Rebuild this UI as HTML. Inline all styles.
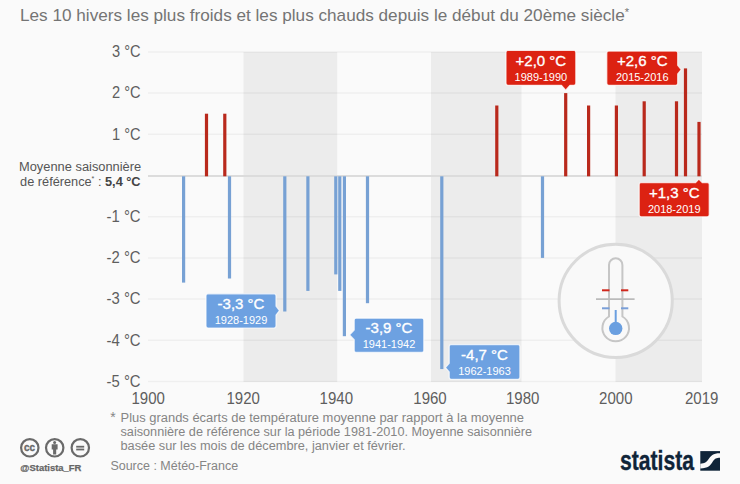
<!DOCTYPE html>
<html><head><meta charset="utf-8"><style>
html,body{margin:0;padding:0;width:740px;height:484px;overflow:hidden;background:#fafafa;}
svg{display:block;font-family:"Liberation Sans",sans-serif;}
</style></head><body>
<svg width="740" height="484" viewBox="0 0 740 484">
<rect x="0" y="0" width="740" height="484" fill="#fafafa"/>
<rect x="243.5" y="52" width="93.7" height="330" fill="#ececec"/>
<rect x="431" y="52" width="90.5" height="330" fill="#ececec"/>
<rect x="615.5" y="52" width="86.5" height="330" fill="#ececec"/>
<line x1="148" x2="702" y1="51.9" y2="51.9" stroke="#000" stroke-opacity="0.045" stroke-width="1.5"/>
<line x1="148" x2="702" y1="93.1" y2="93.1" stroke="#000" stroke-opacity="0.045" stroke-width="1.5"/>
<line x1="148" x2="702" y1="134.3" y2="134.3" stroke="#000" stroke-opacity="0.045" stroke-width="1.5"/>
<line x1="148" x2="702" y1="216.7" y2="216.7" stroke="#000" stroke-opacity="0.045" stroke-width="1.5"/>
<line x1="148" x2="702" y1="257.9" y2="257.9" stroke="#000" stroke-opacity="0.045" stroke-width="1.5"/>
<line x1="148" x2="702" y1="299.1" y2="299.1" stroke="#000" stroke-opacity="0.045" stroke-width="1.5"/>
<line x1="148" x2="702" y1="340.3" y2="340.3" stroke="#000" stroke-opacity="0.045" stroke-width="1.5"/>
<line x1="148" x2="702" y1="381.5" y2="381.5" stroke="#000" stroke-opacity="0.045" stroke-width="1.5"/>
<line x1="148" x2="702" y1="176" y2="176" stroke="#dcdcdc" stroke-width="1.8"/>
<rect x="204.9" y="113.7" width="3.2" height="62.6" fill="#b9291c"/>
<rect x="223.2" y="113.7" width="3.2" height="62.6" fill="#b9291c"/>
<rect x="495.2" y="105.5" width="3.2" height="70.8" fill="#b9291c"/>
<rect x="564.1" y="93.1" width="3.2" height="83.2" fill="#b9291c"/>
<rect x="587.0" y="105.5" width="3.2" height="70.8" fill="#b9291c"/>
<rect x="614.8" y="105.5" width="3.2" height="70.8" fill="#b9291c"/>
<rect x="642.6" y="101.3" width="3.2" height="75.0" fill="#b9291c"/>
<rect x="674.9" y="101.3" width="3.2" height="75.0" fill="#b9291c"/>
<rect x="683.9" y="68.4" width="3.2" height="107.9" fill="#b9291c"/>
<rect x="697.4" y="121.9" width="3.2" height="54.4" fill="#b9291c"/>
<rect x="182.0" y="176.3" width="3.2" height="106.3" fill="#77a1d4"/>
<rect x="227.9" y="176.3" width="3.2" height="102.2" fill="#77a1d4"/>
<rect x="283.2" y="176.3" width="3.2" height="135.2" fill="#77a1d4"/>
<rect x="306.3" y="176.3" width="3.2" height="114.6" fill="#77a1d4"/>
<rect x="334.2" y="176.3" width="3.2" height="98.1" fill="#77a1d4"/>
<rect x="338.2" y="176.3" width="3.2" height="114.6" fill="#77a1d4"/>
<rect x="342.8" y="176.3" width="3.2" height="159.9" fill="#77a1d4"/>
<rect x="365.9" y="176.3" width="3.2" height="126.9" fill="#77a1d4"/>
<rect x="440.2" y="176.3" width="3.2" height="192.8" fill="#77a1d4"/>
<rect x="540.9" y="176.3" width="3.2" height="81.6" fill="#77a1d4"/>
<text x="140.6" y="57.1" text-anchor="end" font-size="16" fill="#5e5e5e" textLength="28.6" lengthAdjust="spacingAndGlyphs">3 °C</text>
<text x="140.6" y="98.3" text-anchor="end" font-size="16" fill="#5e5e5e" textLength="28.6" lengthAdjust="spacingAndGlyphs">2 °C</text>
<text x="140.6" y="139.5" text-anchor="end" font-size="16" fill="#5e5e5e" textLength="28.6" lengthAdjust="spacingAndGlyphs">1 °C</text>
<text x="140.6" y="221.9" text-anchor="end" font-size="16" fill="#5e5e5e" textLength="34.0" lengthAdjust="spacingAndGlyphs">-1 °C</text>
<text x="140.6" y="263.1" text-anchor="end" font-size="16" fill="#5e5e5e" textLength="34.0" lengthAdjust="spacingAndGlyphs">-2 °C</text>
<text x="140.6" y="304.3" text-anchor="end" font-size="16" fill="#5e5e5e" textLength="34.0" lengthAdjust="spacingAndGlyphs">-3 °C</text>
<text x="140.6" y="345.5" text-anchor="end" font-size="16" fill="#5e5e5e" textLength="34.0" lengthAdjust="spacingAndGlyphs">-4 °C</text>
<text x="140.6" y="386.7" text-anchor="end" font-size="16" fill="#5e5e5e" textLength="34.0" lengthAdjust="spacingAndGlyphs">-5 °C</text>
<text x="141.2" y="171.3" text-anchor="end" font-size="12.5" fill="#555" textLength="122.2" lengthAdjust="spacingAndGlyphs">Moyenne saisonnière</text>
<text x="140.6" y="185.5" text-anchor="end" font-size="12.5" fill="#555" textLength="120.5" lengthAdjust="spacingAndGlyphs">de référence<tspan font-size="7" dy="-5">*</tspan><tspan dy="5"> : </tspan><tspan font-weight="bold" fill="#444">5,4 °C</tspan></text>
<text x="148.2" y="403.9" text-anchor="middle" font-size="16" fill="#5e5e5e" textLength="33.4" lengthAdjust="spacingAndGlyphs">1900</text>
<text x="243.2" y="403.9" text-anchor="middle" font-size="16" fill="#5e5e5e" textLength="33.4" lengthAdjust="spacingAndGlyphs">1920</text>
<text x="336.3" y="403.9" text-anchor="middle" font-size="16" fill="#5e5e5e" textLength="33.4" lengthAdjust="spacingAndGlyphs">1940</text>
<text x="430" y="403.9" text-anchor="middle" font-size="16" fill="#5e5e5e" textLength="33.4" lengthAdjust="spacingAndGlyphs">1960</text>
<text x="522.7" y="403.9" text-anchor="middle" font-size="16" fill="#5e5e5e" textLength="33.4" lengthAdjust="spacingAndGlyphs">1980</text>
<text x="615.8" y="403.9" text-anchor="middle" font-size="16" fill="#5e5e5e" textLength="33.4" lengthAdjust="spacingAndGlyphs">2000</text>
<text x="701.7" y="403.9" text-anchor="middle" font-size="16" fill="#5e5e5e" textLength="33.4" lengthAdjust="spacingAndGlyphs">2019</text>
<text x="20" y="21.1" font-size="17" fill="#747474" textLength="609" lengthAdjust="spacingAndGlyphs">Les 10 hivers les plus froids et les plus chauds depuis le début du 20ème siècle<tspan font-size="11" dy="-5">*</tspan></text>
<path d="M208,293.8 L274,293.8 Q276,293.8 276,295.8 L276,306.1 L279.5,310.6 L276,315.1 L276,326 Q276,328 274,328 L208,328 Q206,328 206,326 L206,295.8 Q206,293.8 208,293.8 Z" fill="#6da1e1" stroke="#fff" stroke-opacity="0.75" stroke-width="1.2" stroke-linejoin="round"/><text x="241.0" y="308.8" text-anchor="middle" font-size="15" fill="#fff" stroke="#fff" stroke-width="0.35">-3,3 °C</text><text x="241.0" y="323.8" text-anchor="middle" font-size="11" fill="#fff">1928-1929</text>
<path d="M356.2,318.2 L421.8,318.2 Q423.8,318.2 423.8,320.2 L423.8,350.4 Q423.8,352.4 421.8,352.4 L356.2,352.4 Q354.2,352.4 354.2,350.4 L354.2,339.7 L349.6,334.9 L354.2,330.09999999999997 L354.2,320.2 Q354.2,318.2 356.2,318.2 Z" fill="#6da1e1" stroke="#fff" stroke-opacity="0.75" stroke-width="1.2" stroke-linejoin="round"/><text x="389.0" y="333.2" text-anchor="middle" font-size="15" fill="#fff" stroke="#fff" stroke-width="0.35">-3,9 °C</text><text x="389.0" y="348.2" text-anchor="middle" font-size="11" fill="#fff">1941-1942</text>
<path d="M451.2,344.6 L517.9,344.6 Q519.9,344.6 519.9,346.6 L519.9,377.3 Q519.9,379.3 517.9,379.3 L451.2,379.3 Q449.2,379.3 449.2,377.3 L449.2,371.90000000000003 L445.4,367.6 L449.2,363.3 L449.2,346.6 Q449.2,344.6 451.2,344.6 Z" fill="#6da1e1" stroke="#fff" stroke-opacity="0.75" stroke-width="1.2" stroke-linejoin="round"/><text x="484.5" y="359.6" text-anchor="middle" font-size="15" fill="#fff" stroke="#fff" stroke-width="0.35">-4,7 °C</text><text x="484.5" y="374.6" text-anchor="middle" font-size="11" fill="#fff">1962-1963</text>
<path d="M508,50.5 L573.8,50.5 Q575.8,50.5 575.8,52.5 L575.8,83.3 Q575.8,85.3 573.8,85.3 L569.9000000000001,85.3 L565.7,90.2 L561.5,85.3 L508,85.3 Q506,85.3 506,83.3 L506,52.5 Q506,50.5 508,50.5 Z" fill="#dc2212" stroke="#fff" stroke-opacity="0.75" stroke-width="1.2" stroke-linejoin="round"/><text x="540.9" y="65.5" text-anchor="middle" font-size="15" fill="#fff" stroke="#fff" stroke-width="0.35">+2,0 °C</text><text x="540.9" y="80.5" text-anchor="middle" font-size="11" fill="#fff">1989-1990</text>
<path d="M608.8,51.1 L675.7,51.1 Q677.7,51.1 677.7,53.1 L677.7,65.3 L681.2,69.6 L677.7,73.89999999999999 L677.7,83.3 Q677.7,85.3 675.7,85.3 L608.8,85.3 Q606.8,85.3 606.8,83.3 L606.8,53.1 Q606.8,51.1 608.8,51.1 Z" fill="#dc2212" stroke="#fff" stroke-opacity="0.75" stroke-width="1.2" stroke-linejoin="round"/><text x="642.2" y="66.1" text-anchor="middle" font-size="15" fill="#fff" stroke="#fff" stroke-width="0.35">+2,6 °C</text><text x="642.2" y="81.1" text-anchor="middle" font-size="11" fill="#fff">2015-2016</text>
<path d="M641.2,182.6 L695.6,182.6 L698.9,179.2 L702.1999999999999,182.6 L707.2,182.6 Q709.2,182.6 709.2,184.6 L709.2,214.8 Q709.2,216.8 707.2,216.8 L641.2,216.8 Q639.2,216.8 639.2,214.8 L639.2,184.6 Q639.2,182.6 641.2,182.6 Z" fill="#dc2212" stroke="#fff" stroke-opacity="0.75" stroke-width="1.2" stroke-linejoin="round"/><text x="674.2" y="197.6" text-anchor="middle" font-size="15" fill="#fff" stroke="#fff" stroke-width="0.35">+1,3 °C</text><text x="674.2" y="212.6" text-anchor="middle" font-size="11" fill="#fff">2018-2019</text>
<circle cx="615.7" cy="300.8" r="56.6" fill="#f9f9f9" stroke="#dadada" stroke-width="3"/>
<path d="M609,316.5 L609,265 A6.7,6.7 0 0 1 622.4,265 L622.4,316.5 A13.3,13.3 0 1 1 609,316.5 Z" fill="none" stroke="#c6c6c6" stroke-width="2"/>
<line x1="615.7" y1="310" x2="615.7" y2="325" stroke="#6a9fe0" stroke-width="2"/>
<circle cx="615.7" cy="328.4" r="6.7" fill="#6a9fe0"/>
<line x1="602" x2="609.5" y1="290.3" y2="290.3" stroke="#d0271c" stroke-width="2"/>
<line x1="621" x2="628.3" y1="290.3" y2="290.3" stroke="#d0271c" stroke-width="2"/>
<line x1="596" x2="634.6" y1="299.2" y2="299.2" stroke="#bbbbbb" stroke-width="1.8"/>
<line x1="602" x2="609.5" y1="308.3" y2="308.3" stroke="#7a9fd8" stroke-width="2"/>
<line x1="621" x2="628.3" y1="308.3" y2="308.3" stroke="#7a9fd8" stroke-width="2"/>
<text x="110.2" y="421.5" font-size="14" fill="#858585">*</text>
<text x="120.5" y="422.0" font-size="12.3" fill="#858585" textLength="403.5" lengthAdjust="spacingAndGlyphs">Plus grands écarts de température moyenne par rapport à la moyenne</text>
<text x="120.5" y="435.8" font-size="12.3" fill="#858585" textLength="411.5" lengthAdjust="spacingAndGlyphs">saisonnière de référence sur la période 1981-2010. Moyenne saisonnière</text>
<text x="120.5" y="450.4" font-size="12.3" fill="#858585" textLength="285" lengthAdjust="spacingAndGlyphs">basée sur les mois de décembre, janvier et février.</text>
<text x="110.4" y="470.3" font-size="12.3" fill="#858585" textLength="127.7" lengthAdjust="spacingAndGlyphs">Source : Météo-France</text>
<circle cx="29.8" cy="447.8" r="8.7" fill="none" stroke="#6a6a6a" stroke-width="2.2"/>
<circle cx="54.7" cy="447.8" r="8.7" fill="none" stroke="#6a6a6a" stroke-width="2.2"/>
<circle cx="80.3" cy="447.8" r="8.7" fill="none" stroke="#6a6a6a" stroke-width="2.2"/>
<text x="29.4" y="450.6" text-anchor="middle" font-size="10.5" font-weight="bold" fill="#6a6a6a" stroke="#6a6a6a" stroke-width="0.4" textLength="11" lengthAdjust="spacingAndGlyphs">cc</text>
<circle cx="54.6" cy="442.4" r="1.5" fill="#6a6a6a"/><path d="M51.7,444.3 h5.9 v5.2 h-1.4 v5 h-3.1 v-5 h-1.4 z" fill="#6a6a6a"/>
<rect x="76.2" y="445.8" width="8" height="1.8" fill="#6a6a6a"/><rect x="76.2" y="448.6" width="8" height="1.8" fill="#6a6a6a"/>
<text x="20.3" y="470.7" font-size="9.6" font-weight="bold" fill="#666" stroke="#666" stroke-width="0.25" textLength="61" lengthAdjust="spacingAndGlyphs">@Statista_FR</text>
<text x="620" y="470.0" font-size="28" font-weight="bold" fill="#0f2438" stroke="#0f2438" stroke-width="0.35" textLength="74" lengthAdjust="spacingAndGlyphs">statista</text>
<g transform="translate(700.3,451.1)"><rect x="0" y="0" width="19.7" height="19.6" fill="#0f2438"/>
<path d="M0,12.6 C4.5,12.6 6,11 8,8.5 C10.5,4.8 12.5,2.2 19.7,2.2 L19.7,6.7 C16,6.7 14.5,7.5 12.5,10.5 C10,14.5 8,17.3 0,17.3 Z" fill="#fafafa"/></g>
</svg>
</body></html>
